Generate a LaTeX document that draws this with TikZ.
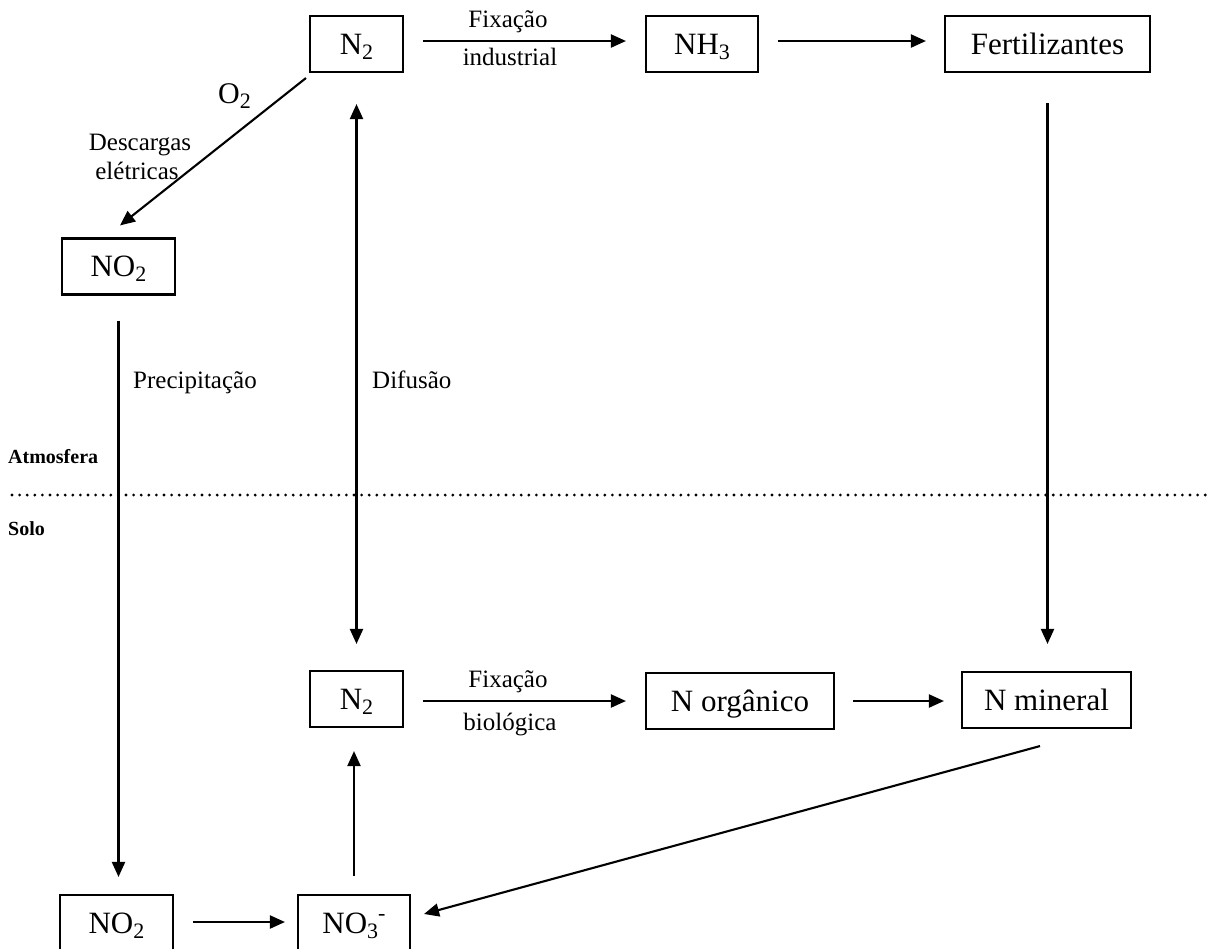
\documentclass[tikz,border=0pt]{standalone}
\usepackage{fontspec}
\setmainfont{Liberation Serif}
\usetikzlibrary{arrows.meta}
% chemical sub- and superscripts set in the running size
\newcommand\chemsub[1]{\raisebox{-5pt}{\fontsize{22}{22}\selectfont #1}}
\newcommand\chemsup[1]{\raisebox{13pt}{\fontsize{22}{22}\selectfont #1}}
\begin{document}
\begin{tikzpicture}[x=1pt,y=-1pt,
  box/.style={draw,line width=2.1pt,inner sep=0pt,minimum height=56pt,
    text height=20.5pt,text depth=0pt,font=\fontsize{31}{31}\selectfont},
  lbl/.style={inner sep=0pt,anchor=base,font=\fontsize{25}{25}\selectfont},
  zone/.style={inner sep=0pt,anchor=base west,font=\fontsize{20}{20}\selectfont\bfseries},
  flow/.style={line width=2.1pt,-{Triangle[length=15pt,width=13pt]}},
  flowboth/.style={line width=2.1pt,{Triangle[length=15pt,width=13pt]}-{Triangle[length=15pt,width=13pt]}}]
\fill[white] (0,0) rectangle (1210,948);
\clip (0,0) rectangle (1210,948);

% atmosphere
\node[box,minimum width=93pt]  (n2top) at (356.5,44) {N\chemsub{2}};
\node[box,minimum width=112pt] (nh3)   at (702,44)   {NH\chemsub{3}};
\node[box,minimum width=205pt] (fert)  at (1047.5,44) {Fertilizantes};
\node[box,minimum width=113pt] (no2top) at (118.5,266.5) {NO\chemsub{2}};

% soil
\node[box,minimum width=93pt]  (n2bot) at (356.5,699) {N\chemsub{2}};
\node[box,minimum width=188pt] (norg)  at (740,701)   {N orgânico};
\node[box,minimum width=169pt] (nmin)  at (1046.5,700) {N mineral};
\node[box,minimum width=113pt] (no2bot) at (116.5,923) {NO\chemsub{2}};
\node[box,minimum width=112pt] (no3)   at (354,923)   {NO\chemsub{3}\chemsup{-}};

% boundary between atmosphere and soil
\coordinate (lineL) at (12,495);
\coordinate (lineR) at (1206,495);
\draw[line width=3.1pt,line cap=round,dash pattern=on 0pt off 7.6pt] (lineL) -- (lineR);
\node[zone] (atm)  at (8,463) {Atmosfera};
\node[zone] (solo) at (8,535) {Solo};

% industrial route
\draw[flow,shorten <=19pt,shorten >=19pt] ([yshift=3pt]n2top.east) -- ([yshift=3pt]nh3.west);
\node[lbl] (fixa1) at (508,27) {Fixação};
\node[lbl] (fixa2) at (510,65) {industrial};
\draw[flow,shorten <=19pt,shorten >=18pt] ([yshift=3pt]nh3.east) -- ([yshift=3pt]fert.west);
\draw[flow,shorten <=30pt,shorten >=27pt] (fert.south) -- (fert.south |- nmin.north);

% lightning route
\draw[flow] ([xshift=-3pt,yshift=-5pt]n2top.south west) -- ([xshift=1.5pt,yshift=12pt]no2top.north);
\node[lbl,anchor=base west,font=\fontsize{30}{30}\selectfont] (o2) at (218,103) {O\chemsub{2}};
\node[lbl] (desc1) at (140,150) {Descargas};
\node[lbl] (desc2) at (137,179) {elétricas};
\draw[flow,shorten <=25pt,shorten >=17pt] (no2top.south) -- (no2top.south |- no2bot.north);
\node[lbl,anchor=base west] (prec) at (133,388) {Precipitação};

% diffusion
\draw[flowboth,shorten <=31pt,shorten >=26pt] (n2top.south) -- (n2top.south |- n2bot.north);
\node[lbl,anchor=base west] (difu) at (372,388) {Difusão};

% biological route
\draw[flow,shorten <=19pt,shorten >=19pt] ([yshift=-2pt]n2bot.east) -- ([yshift=-2pt]n2bot.east -| norg.west);
\node[lbl] (fixb1) at (508,687) {Fixação};
\node[lbl] (fixb2) at (510,730) {biológica};
\draw[flow,shorten <=18pt,shorten >=17pt] (norg.east) -- (norg.east -| nmin.west);
\draw[flow] ([xshift=-6.5pt,yshift=-17pt]nmin.south) -- ([xshift=13pt,yshift=9pt]no3.east);
\draw[flow,shorten <=18pt,shorten >=23pt] (no3.north) -- (no3.north |- n2bot.south);
\draw[flow,shorten <=19pt,shorten >=12pt] ([yshift=1pt]no2bot.east) -- ([yshift=1pt]no3.west);
\end{tikzpicture}
\end{document}
